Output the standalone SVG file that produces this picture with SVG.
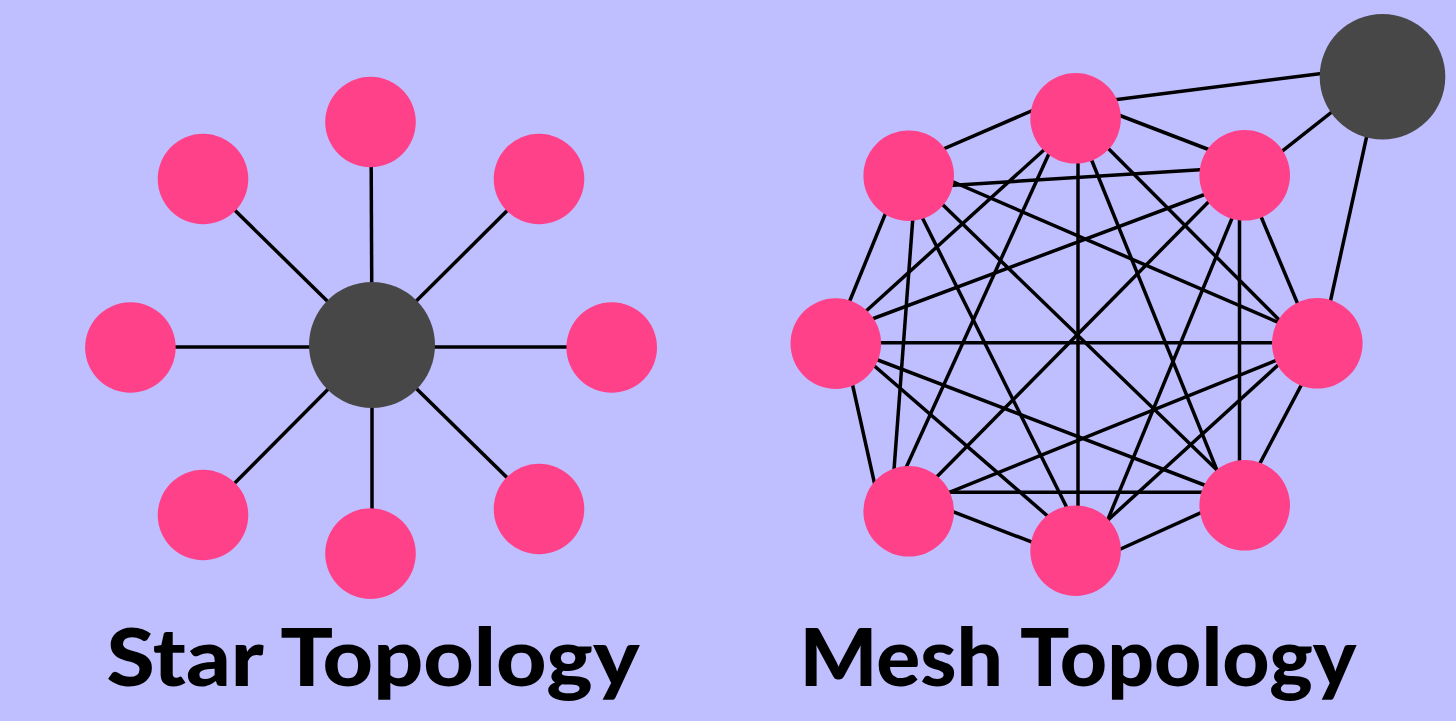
<svg xmlns="http://www.w3.org/2000/svg" width="1456" height="721" viewBox="0 0 1456 721">
<style>
.bg{fill:#bfbfff}
.pink{fill:#ff418a}
.hub{fill:#474747}
.edge{stroke:#000;stroke-width:3.5;fill:none;stroke-linecap:butt}
.title{font-family:"Lato","Liberation Sans",sans-serif;font-weight:900;font-size:80px;fill:#000}
</style>
<rect class="bg" x="0" y="0" width="1456" height="721"/>
<g id="star-connectors">
<line class="edge" x1="372" y1="345" x2="371" y2="122"/>
<line class="edge" x1="372" y1="345" x2="203" y2="179"/>
<line class="edge" x1="372" y1="345" x2="539" y2="179"/>
<line class="edge" x1="372" y1="347" x2="130" y2="347"/>
<line class="edge" x1="372" y1="347" x2="612" y2="347"/>
<line class="edge" x1="372" y1="345" x2="203" y2="515"/>
<line class="edge" x1="372" y1="345" x2="372" y2="553"/>
<line class="edge" x1="372" y1="345" x2="539" y2="509"/>
</g>
<g id="mesh-connectors">
<line class="edge" x1="904" y1="166" x2="1066" y2="96"/>
<line class="edge" x1="1074" y1="105" x2="1381" y2="66"/>
<line class="edge" x1="1082" y1="101" x2="1249" y2="165"/>
<line class="edge" x1="909" y1="188" x2="1244" y2="167"/>
<line class="edge" x1="1247" y1="179" x2="1380" y2="74"/>
<line class="edge" x1="1380" y1="76" x2="1321" y2="344"/>
<line class="edge" x1="914" y1="165" x2="1319" y2="340"/>
<line class="edge" x1="911" y1="174" x2="1249" y2="501"/>
<line class="edge" x1="903" y1="179" x2="1086" y2="546"/>
<line class="edge" x1="916" y1="176" x2="891" y2="510"/>
<line class="edge" x1="902" y1="173" x2="833" y2="342"/>
<line class="edge" x1="1077" y1="120" x2="833" y2="341"/>
<line class="edge" x1="1067" y1="114" x2="890" y2="503"/>
<line class="edge" x1="1078" y1="118" x2="1078" y2="550"/>
<line class="edge" x1="1075" y1="119" x2="1233" y2="510"/>
<line class="edge" x1="1077" y1="117" x2="1310" y2="351"/>
<line class="edge" x1="1246" y1="179" x2="832" y2="334"/>
<line class="edge" x1="1240" y1="170" x2="906" y2="508"/>
<line class="edge" x1="1249" y1="177" x2="1092" y2="558"/>
<line class="edge" x1="1239.5" y1="175" x2="1239.5" y2="505"/>
<line class="edge" x1="1244" y1="176" x2="1315" y2="345"/>
<line class="edge" x1="836" y1="342.7" x2="1317" y2="342.7"/>
<line class="edge" x1="843" y1="342" x2="882" y2="517"/>
<line class="edge" x1="841" y1="337" x2="1081" y2="545"/>
<line class="edge" x1="836" y1="344" x2="1246" y2="501"/>
<line class="edge" x1="1317" y1="344" x2="908" y2="509"/>
<line class="edge" x1="1310" y1="336" x2="1075" y2="550"/>
<line class="edge" x1="1322" y1="346" x2="1239" y2="503"/>
<line class="edge" x1="908" y1="492.3" x2="1245" y2="492.3"/>
<line class="edge" x1="1240" y1="495" x2="1083" y2="566"/>
<line class="edge" x1="915" y1="497" x2="1073" y2="558"/>
</g>
<g id="star-hub"><circle class="hub" cx="372" cy="345" r="63"/></g>
<g id="star-n1"><circle class="pink" cx="370.5" cy="122" r="45.3"/></g>
<g id="star-n2"><circle class="pink" cx="203" cy="179" r="45.3"/></g>
<g id="star-n3"><circle class="pink" cx="539" cy="179" r="45.3"/></g>
<g id="star-n4"><circle class="pink" cx="130.4" cy="347.5" r="45.3"/></g>
<g id="star-n5"><circle class="pink" cx="611.7" cy="347.5" r="45.3"/></g>
<g id="star-n6"><circle class="pink" cx="203" cy="515" r="45.3"/></g>
<g id="star-n7"><circle class="pink" cx="370.5" cy="553.6" r="45.3"/></g>
<g id="star-n8"><circle class="pink" cx="539" cy="509" r="45.3"/></g>
<g id="mesh-hub"><circle class="hub" cx="1382.5" cy="76.7" r="62.8"/></g>
<g id="mesh-a"><circle class="pink" cx="1075.6" cy="118.3" r="45.3"/></g>
<g id="mesh-b"><circle class="pink" cx="1244.7" cy="175.3" r="45.3"/></g>
<g id="mesh-c"><circle class="pink" cx="1317.3" cy="343.3" r="45.3"/></g>
<g id="mesh-d"><circle class="pink" cx="1244.7" cy="505.3" r="45.3"/></g>
<g id="mesh-e"><circle class="pink" cx="1075.6" cy="550.7" r="45.3"/></g>
<g id="mesh-f"><circle class="pink" cx="908.7" cy="511.3" r="45.3"/></g>
<g id="mesh-g"><circle class="pink" cx="835.8" cy="343.6" r="45.3"/></g>
<g id="mesh-h"><circle class="pink" cx="908.7" cy="175.7" r="45.3"/></g>
<g id="labels">
<text class="title" x="373" y="686" text-anchor="middle" textLength="533" lengthAdjust="spacingAndGlyphs">Star Topology</text>
<text class="title" x="1078" y="686" text-anchor="middle" textLength="557" lengthAdjust="spacingAndGlyphs">Mesh Topology</text>
</g>
</svg>
